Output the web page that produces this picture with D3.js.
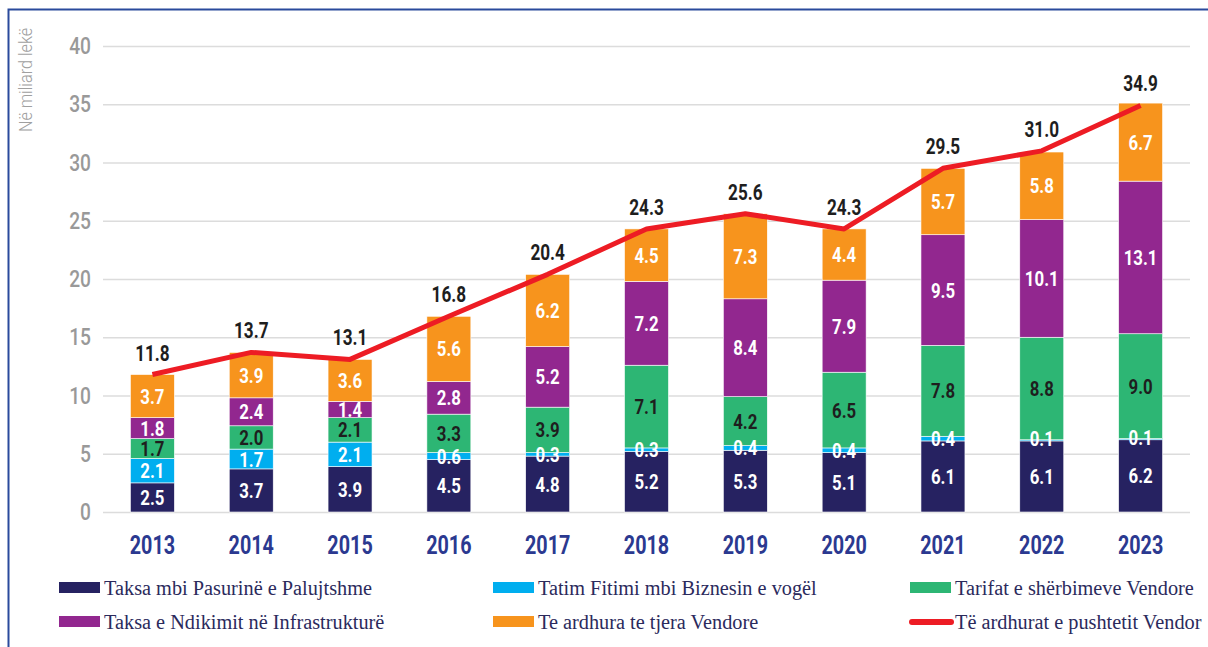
<!DOCTYPE html>
<html>
<head>
<meta charset="utf-8">
<script src="https://cdn.jsdelivr.net/npm/d3@7"></script>
<style>
  body { margin: 0; background: #fff; }
  .num { font-family: Roboto, "DejaVu Sans", sans-serif; font-weight: bold; }
  .serif { font-family: "Liberation Serif", "DejaVu Serif", "Noto Serif", "Times New Roman", serif; }
</style>
</head>
<body>
<div id="chart"></div>
<script>
const years = ["2013", "2014", "2015", "2016", "2017", "2018", "2019", "2020", "2021", "2022", "2023"];
const pasurine = [2.5, 3.7, 3.9, 4.5, 4.8, 5.2, 5.3, 5.1, 6.1, 6.1, 6.2];
const fitimi = [2.1, 1.7, 2.1, 0.6, 0.3, 0.3, 0.4, 0.4, 0.4, 0.1, 0.1];
const tarifat = [1.7, 2.0, 2.1, 3.3, 3.9, 7.1, 4.2, 6.5, 7.8, 8.8, 9.0];
const ndikimi = [1.8, 2.4, 1.4, 2.8, 5.2, 7.2, 8.4, 7.9, 9.5, 10.1, 13.1];
const tjera = [3.7, 3.9, 3.6, 5.6, 6.2, 4.5, 7.3, 4.4, 5.7, 5.8, 6.7];
const totals = [11.8, 13.7, 13.1, 16.8, 20.4, 24.3, 25.6, 24.3, 29.5, 31.0, 34.9];
const yTicks = [0, 5, 10, 15, 20, 25, 30, 35, 40];

const series = [
    { key: "pasurine", name: "Taksa mbi Pasurinë e Palujtshme", values: pasurine, color: "#262261", text: "#fff" },
    { key: "fitimi", name: "Tatim Fitimi mbi Biznesin e vogël", values: fitimi, color: "#00aeef", text: "#fff" },
    { key: "tarifat", name: "Tarifat e shërbimeve Vendore", values: tarifat, color: "#2db674", text: "#1e1e1e" },
    { key: "ndikimi", name: "Taksa e Ndikimit në Infrastrukturë", values: ndikimi, color: "#92278f", text: "#fff" },
    { key: "tjera", name: "Te ardhura te tjera Vendore", values: tjera, color: "#f7941d", text: "#fff" }
];
const lineName = "Të ardhurat e pushtetit Vendor";
const lineColor = "#ed1c24";

const width = 1208, height = 647;
const svg = d3.select("#chart").append("svg")
    .attr("width", width)
    .attr("height", height);

// squeeze text horizontally so it looks like the condensed face of the original
function condense(sel, f) {
    sel.each(function() {
        const w = this.getComputedTextLength();
        d3.select(this).attr("textLength", w * f).attr("lengthAdjust", "spacingAndGlyphs");
    });
}

// frame
svg.append("path")
    .attr("d", `M8.5,${height} L8.5,9.5 L${width},9.5`)
    .style("fill", "none")
    .style("stroke", "#2a4a9c")
    .style("stroke-width", 2);

const x = d3.scaleBand()
    .domain(years)
    .range([103, 1190])
    .paddingInner(0.555)
    .paddingOuter(0.2775);

const y = d3.scaleLinear()
    .domain([0, 40])
    .range([512, 46]);

// gridlines + y labels
const yAxis = d3.axisLeft(y).tickValues(yTicks).tickSize(-(1190 - 103)).tickPadding(12);
const gy = svg.append("g")
    .attr("transform", "translate(103,0)")
    .call(yAxis);
gy.select(".domain").remove();
gy.selectAll(".tick line").style("stroke", "#dcdcdc").style("stroke-width", 1.5);
gy.selectAll(".tick text")
    .attr("class", "num")
    .style("font-weight", "500")
    .style("font-size", "24px")
    .style("fill", "#999")
    .call(condense, 0.8);

// axis title
svg.append("text")
    .attr("transform", "translate(32,80) rotate(-90)")
    .attr("text-anchor", "middle")
    .style("font-family", "Roboto, sans-serif")
    .style("font-weight", "300")
    .style("font-size", "18px")
    .style("fill", "#a0a0a0")
    .text("Në miliard lekë")
    .call(condense, 0.9);

// stacked data
const table = years.map((yr, i) => {
    const row = { year: yr };
    series.forEach(s => row[s.key] = s.values[i]);
    return row;
});
const stacked = d3.stack().keys(series.map(s => s.key))(table);

const layers = svg.append("g").selectAll("g")
    .data(stacked)
    .join("g")
    .style("fill", (d, i) => series[i].color);

layers.selectAll("rect")
    .data(d => d)
    .join("rect")
    .attr("x", d => x(d.data.year))
    .attr("width", x.bandwidth())
    .attr("y", d => y(d[1]))
    .attr("height", d => y(d[0]) - y(d[1]))
    .style("stroke", "#fff")
    .style("stroke-width", 0.6);

// segment labels
stacked.forEach((layer, li) => {
    svg.append("g").selectAll("text")
        .data(layer)
        .join("text")
        .attr("class", "num")
        .attr("x", d => x(d.data.year) + x.bandwidth() / 2)
        .attr("y", d => Math.min((y(d[0]) + y(d[1])) / 2, y(d[0]) - 2))
        .attr("dy", "0.36em")
        .attr("text-anchor", "middle")
        .style("font-size", "21px")
        .style("fill", series[li].text)
        .text(d => series[li].values[years.indexOf(d.data.year)].toFixed(1))
        .call(condense, 0.8);
});

// total line
const line = d3.line()
    .x((d, i) => x(years[i]) + x.bandwidth() / 2)
    .y(d => y(d));
svg.append("path")
    .datum(totals)
    .attr("d", line)
    .style("fill", "none")
    .style("stroke", lineColor)
    .style("stroke-width", 5)
    .style("stroke-linejoin", "round");

svg.append("g").selectAll("text")
    .data(totals)
    .join("text")
    .attr("class", "num")
    .attr("x", (d, i) => x(years[i]) + x.bandwidth() / 2)
    .attr("y", d => y(d) - 14)
    .attr("text-anchor", "middle")
    .style("font-size", "22px")
    .style("fill", "#1e1e1e")
    .text(d => d.toFixed(1))
    .call(condense, 0.78);

// year labels
const xAxis = d3.axisBottom(x).tickSize(0).tickPadding(0);
const gx = svg.append("g")
    .attr("transform", "translate(0,545)")
    .call(xAxis);
gx.select(".domain").remove();
gx.selectAll(".tick text")
    .attr("class", "num")
    .attr("dy", "0.36em")
    .style("font-size", "26px")
    .style("fill", "#2b3990")
    .call(condense, 0.76);

// legend, 3 columns x 2 rows
const legendItems = [
    { name: series[0].name, color: series[0].color },
    { name: series[1].name, color: series[1].color },
    { name: series[2].name, color: series[2].color },
    { name: series[3].name, color: series[3].color },
    { name: series[4].name, color: series[4].color },
    { name: lineName, color: lineColor, line: true }
];
const colX = [59, 493, 910];
const rowY = [588, 622];
const lg = svg.append("g").selectAll("g")
    .data(legendItems)
    .join("g")
    .attr("transform", (d, i) => `translate(${colX[i % 3]},${rowY[Math.floor(i / 3)]})`);
lg.append("rect")
    .attr("x", d => d.line ? -1 : 0)
    .attr("y", d => d.line ? -3 : -6)
    .attr("width", d => d.line ? 45 : 41)
    .attr("height", d => d.line ? 6 : 11)
    .attr("rx", d => d.line ? 3 : 0)
    .style("fill", d => d.color);
const legendText = lg.append("text")
    .attr("class", "serif")
    .attr("x", 45)
    .attr("dy", "0.35em")
    .style("font-size", "20px")
    .style("fill", "#2b2a5c")
    .text(d => d.name);
// scale all legend labels by the same factor so the first one is ~268px wide
const f = 268 / legendText.node().getComputedTextLength();
legendText.call(condense, f);
</script>
</body>
</html>
